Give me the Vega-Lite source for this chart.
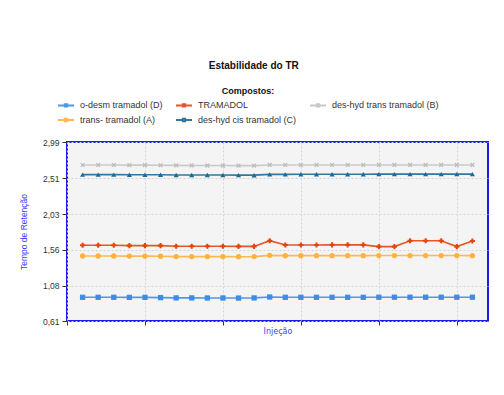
{
  "$schema": "https://vega.github.io/schema/vega-lite/v6.json",
  "width": 421,
  "height": 179,
  "padding": {"left": 19, "top": 61, "right": 10, "bottom": 5},
  "background": "white",
  "title": {
    "text": "Estabilidade do TR",
    "font": "Liberation Sans",
    "fontSize": 10,
    "fontWeight": "bold",
    "color": "#111111",
    "anchor": "middle",
    "frame": "bounds",
    "offset": 16
  },
  "config": {
    "view": {"fill": "#f4f4f4", "stroke": "#1a1aee", "strokeWidth": 2},
    "axis": {
      "labelFont": "Liberation Sans",
      "labelFontSize": 8.5,
      "labelColor": "#333333",
      "titleFont": "Liberation Sans",
      "titleFontWeight": "normal",
      "titleColor": "#4040ff",
      "tickColor": "#333333",
      "domain": false,
      "gridColor": "#d4d4d4",
      "gridDash": [2, 2],
      "gridWidth": 1
    }
  },
  "data": {
    "values": [
      {"inj": 1, "o-desm tramadol (D)": 0.925, "TRAMADOL": 1.617, "des-hyd trans tramadol (B)": 2.684, "trans- tramadol (A)": 1.474, "des-hyd cis tramadol (C)": 2.556},
      {"inj": 2, "o-desm tramadol (D)": 0.925, "TRAMADOL": 1.617, "des-hyd trans tramadol (B)": 2.684, "trans- tramadol (A)": 1.474, "des-hyd cis tramadol (C)": 2.556},
      {"inj": 3, "o-desm tramadol (D)": 0.925, "TRAMADOL": 1.617, "des-hyd trans tramadol (B)": 2.684, "trans- tramadol (A)": 1.474, "des-hyd cis tramadol (C)": 2.556},
      {"inj": 4, "o-desm tramadol (D)": 0.924, "TRAMADOL": 1.612, "des-hyd trans tramadol (B)": 2.683, "trans- tramadol (A)": 1.473, "des-hyd cis tramadol (C)": 2.555},
      {"inj": 5, "o-desm tramadol (D)": 0.924, "TRAMADOL": 1.612, "des-hyd trans tramadol (B)": 2.682, "trans- tramadol (A)": 1.473, "des-hyd cis tramadol (C)": 2.555},
      {"inj": 6, "o-desm tramadol (D)": 0.921, "TRAMADOL": 1.612, "des-hyd trans tramadol (B)": 2.681, "trans- tramadol (A)": 1.471, "des-hyd cis tramadol (C)": 2.554},
      {"inj": 7, "o-desm tramadol (D)": 0.917, "TRAMADOL": 1.604, "des-hyd trans tramadol (B)": 2.679, "trans- tramadol (A)": 1.466, "des-hyd cis tramadol (C)": 2.552},
      {"inj": 8, "o-desm tramadol (D)": 0.917, "TRAMADOL": 1.604, "des-hyd trans tramadol (B)": 2.678, "trans- tramadol (A)": 1.466, "des-hyd cis tramadol (C)": 2.551},
      {"inj": 9, "o-desm tramadol (D)": 0.916, "TRAMADOL": 1.603, "des-hyd trans tramadol (B)": 2.677, "trans- tramadol (A)": 1.466, "des-hyd cis tramadol (C)": 2.551},
      {"inj": 10, "o-desm tramadol (D)": 0.916, "TRAMADOL": 1.603, "des-hyd trans tramadol (B)": 2.677, "trans- tramadol (A)": 1.466, "des-hyd cis tramadol (C)": 2.551},
      {"inj": 11, "o-desm tramadol (D)": 0.915, "TRAMADOL": 1.602, "des-hyd trans tramadol (B)": 2.676, "trans- tramadol (A)": 1.465, "des-hyd cis tramadol (C)": 2.550},
      {"inj": 12, "o-desm tramadol (D)": 0.917, "TRAMADOL": 1.602, "des-hyd trans tramadol (B)": 2.676, "trans- tramadol (A)": 1.466, "des-hyd cis tramadol (C)": 2.549},
      {"inj": 13, "o-desm tramadol (D)": 0.929, "TRAMADOL": 1.678, "des-hyd trans tramadol (B)": 2.685, "trans- tramadol (A)": 1.483, "des-hyd cis tramadol (C)": 2.560},
      {"inj": 14, "o-desm tramadol (D)": 0.925, "TRAMADOL": 1.621, "des-hyd trans tramadol (B)": 2.684, "trans- tramadol (A)": 1.479, "des-hyd cis tramadol (C)": 2.560},
      {"inj": 15, "o-desm tramadol (D)": 0.925, "TRAMADOL": 1.621, "des-hyd trans tramadol (B)": 2.684, "trans- tramadol (A)": 1.479, "des-hyd cis tramadol (C)": 2.561},
      {"inj": 16, "o-desm tramadol (D)": 0.925, "TRAMADOL": 1.621, "des-hyd trans tramadol (B)": 2.684, "trans- tramadol (A)": 1.479, "des-hyd cis tramadol (C)": 2.561},
      {"inj": 17, "o-desm tramadol (D)": 0.925, "TRAMADOL": 1.622, "des-hyd trans tramadol (B)": 2.684, "trans- tramadol (A)": 1.479, "des-hyd cis tramadol (C)": 2.561},
      {"inj": 18, "o-desm tramadol (D)": 0.925, "TRAMADOL": 1.622, "des-hyd trans tramadol (B)": 2.684, "trans- tramadol (A)": 1.479, "des-hyd cis tramadol (C)": 2.561},
      {"inj": 19, "o-desm tramadol (D)": 0.925, "TRAMADOL": 1.622, "des-hyd trans tramadol (B)": 2.684, "trans- tramadol (A)": 1.479, "des-hyd cis tramadol (C)": 2.562},
      {"inj": 20, "o-desm tramadol (D)": 0.926, "TRAMADOL": 1.599, "des-hyd trans tramadol (B)": 2.685, "trans- tramadol (A)": 1.480, "des-hyd cis tramadol (C)": 2.563},
      {"inj": 21, "o-desm tramadol (D)": 0.926, "TRAMADOL": 1.599, "des-hyd trans tramadol (B)": 2.685, "trans- tramadol (A)": 1.480, "des-hyd cis tramadol (C)": 2.563},
      {"inj": 22, "o-desm tramadol (D)": 0.926, "TRAMADOL": 1.678, "des-hyd trans tramadol (B)": 2.685, "trans- tramadol (A)": 1.480, "des-hyd cis tramadol (C)": 2.563},
      {"inj": 23, "o-desm tramadol (D)": 0.926, "TRAMADOL": 1.678, "des-hyd trans tramadol (B)": 2.685, "trans- tramadol (A)": 1.480, "des-hyd cis tramadol (C)": 2.563},
      {"inj": 24, "o-desm tramadol (D)": 0.926, "TRAMADOL": 1.678, "des-hyd trans tramadol (B)": 2.685, "trans- tramadol (A)": 1.480, "des-hyd cis tramadol (C)": 2.563},
      {"inj": 25, "o-desm tramadol (D)": 0.926, "TRAMADOL": 1.599, "des-hyd trans tramadol (B)": 2.685, "trans- tramadol (A)": 1.480, "des-hyd cis tramadol (C)": 2.563},
      {"inj": 26, "o-desm tramadol (D)": 0.926, "TRAMADOL": 1.674, "des-hyd trans tramadol (B)": 2.685, "trans- tramadol (A)": 1.479, "des-hyd cis tramadol (C)": 2.563}
    ]
  },
  "transform": [
    {"fold": ["o-desm tramadol (D)", "TRAMADOL", "des-hyd trans tramadol (B)", "trans- tramadol (A)", "des-hyd cis tramadol (C)"], "as": ["composto", "tr"]}
  ],
  "encoding": {
    "x": {
      "field": "inj",
      "type": "quantitative",
      "scale": {"domain": [0, 27], "nice": false, "zero": false},
      "axis": {
        "title": "Injeção",
        "titleFont": "DejaVu Sans",
        "titleFontSize": 8,
        "titlePadding": 2,
        "values": [0, 5, 10, 15, 20, 25],
        "labels": false,
        "tickSize": 4,
        "grid": true
      }
    },
    "y": {
      "field": "tr",
      "type": "quantitative",
      "scale": {"domain": [0.61, 2.99], "nice": false, "zero": false},
      "axis": {
        "title": "Tempo de Retenção",
        "titleFontSize": 8.5,
        "titlePadding": 14,
        "values": [0.61, 1.08, 1.56, 2.03, 2.51, 2.99],
        "labelExpr": "replace(format(datum.value, '.2f'), '.', ',')",
        "tickSize": 5,
        "labelPadding": 3,
        "grid": true
      }
    }
  },
  "layer": [
    {
      "mark": {"type": "line", "strokeWidth": 1.6, "opacity": 0.9},
      "encoding": {
        "color": {
          "field": "composto",
          "type": "nominal",
          "scale": {
            "domain": ["o-desm tramadol (D)", "TRAMADOL", "des-hyd trans tramadol (B)", "trans- tramadol (A)", "des-hyd cis tramadol (C)"],
            "range": ["#3f8ce6", "#e4450f", "#c4c4c4", "#ffb13e", "#1c6a98"]
          },
          "legend": {
            "title": "Compostos:",
            "orient": "none",
            "legendX": -10,
            "legendY": -55,
            "direction": "horizontal",
            "columns": 3,
            "columnPadding": 9,
            "rowPadding": -8,
            "padding": 0,
            "titleAnchor": "middle",
            "titleFont": "Liberation Sans",
            "titleFontSize": 9,
            "titleFontWeight": "bold",
            "titleColor": "#111111",
            "titlePadding": 0,
            "labelFont": "Liberation Sans",
            "labelFontSize": 9,
            "labelColor": "#333333",
            "labelOffset": 5,
            "symbolType": "M-1,0L1,0M-0.15,-0.15L0.15,-0.15L0.15,0.15L-0.15,0.15Z",
            "symbolSize": 256,
            "symbolStrokeWidth": 2
          }
        }
      }
    },
    {
      "transform": [{"filter": {"field": "composto", "equal": "o-desm tramadol (D)"}}],
      "mark": {"type": "point", "filled": true, "opacity": 1, "size": 28, "shape": "square", "color": "#3f8ce6"},
      "encoding": {}
    },
    {
      "transform": [{"filter": {"field": "composto", "equal": "TRAMADOL"}}],
      "mark": {"type": "point", "filled": true, "opacity": 1, "size": 26, "shape": "cross", "color": "#e4450f"},
      "encoding": {}
    },
    {
      "transform": [{"filter": {"field": "composto", "equal": "des-hyd trans tramadol (B)"}}],
      "mark": {"type": "point", "filled": true, "opacity": 1, "size": 22, "shape": "M-0.6,-1L0,-0.4L0.6,-1L1,-0.6L0.4,0L1,0.6L0.6,1L0,0.4L-0.6,1L-1,0.6L-0.4,0L-1,-0.6Z", "color": "#bdbdbd"},
      "encoding": {}
    },
    {
      "transform": [{"filter": {"field": "composto", "equal": "trans- tramadol (A)"}}],
      "mark": {"type": "point", "filled": true, "opacity": 1, "size": 28, "shape": "circle", "color": "#ffb13e"},
      "encoding": {}
    },
    {
      "transform": [{"filter": {"field": "composto", "equal": "des-hyd cis tramadol (C)"}}],
      "mark": {"type": "point", "filled": true, "opacity": 1, "size": 26, "shape": "triangle-up", "color": "#1c6a98"},
      "encoding": {}
    }
  ]
}
